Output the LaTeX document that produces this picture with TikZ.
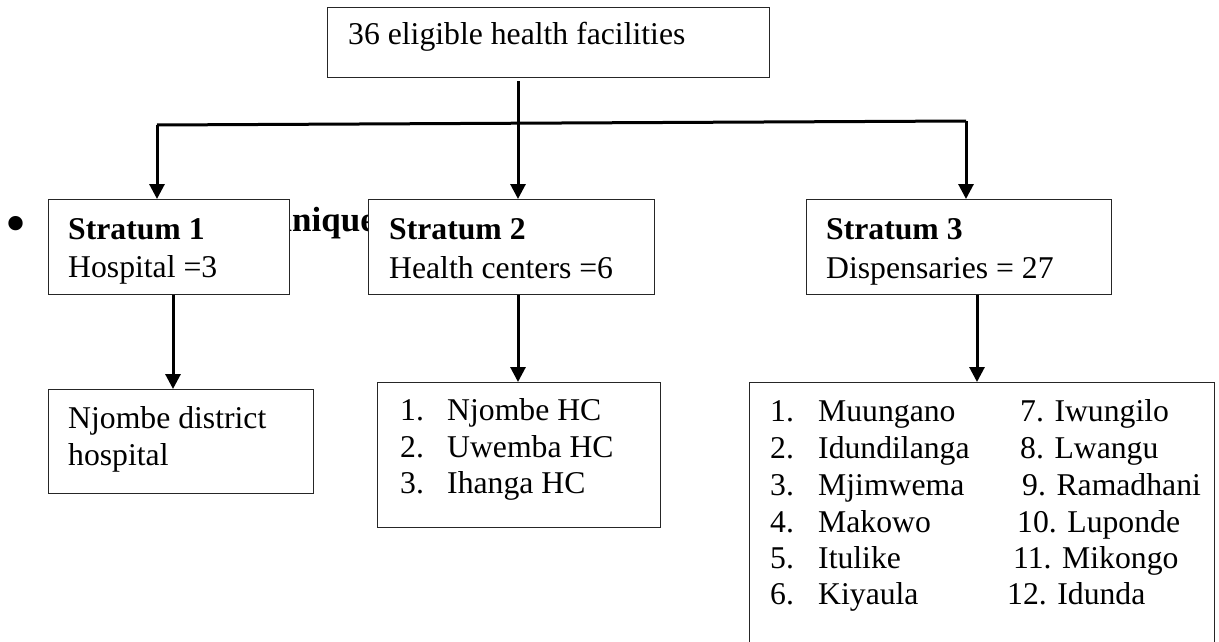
\documentclass[tikz,border=0pt]{standalone}
\usepackage{fontspec}
\setmainfont{Liberation Serif}
\usetikzlibrary{arrows.meta}
\tikzset{
  box/.style={draw=black!85, line width=1.2pt, fill=white, inner sep=0pt, anchor=north west},
  txt/.style={anchor=base west, inner sep=0pt, font=\fontsize{31.7}{36.4}\selectfont},
  btxt/.style={anchor=base west, inner sep=0pt, font=\fontsize{31.7}{36.4}\selectfont\bfseries},
  conn/.style={line width=3pt},
  arr/.style={conn, -{Triangle[width=15pt,length=15pt]}},
}
\begin{document}
\begin{tikzpicture}[x=1pt,y=-1pt]
\useasboundingbox (0,0) rectangle (1219,642);
\fill[white] (0,0) rectangle (1219,642);
\clip (0,0) rectangle (1219,642);

% background bullet text (partly hidden by boxes)
\node[anchor=base west, inner sep=0pt, font=\fontsize{60}{60}\selectfont] (bul) at (5,243) {•};
\node[anchor=base east, inner sep=0pt, font=\fontsize{35}{40}\selectfont\bfseries] (tech) at (376,231) {technique};

% boxes
\node[box, minimum width=442pt, minimum height=70pt] (top) at (327,7) {};
\node[box, minimum width=241pt, minimum height=95pt] (s1) at (48,199) {};
\node[box, minimum width=286pt, minimum height=95pt] (s2) at (368,199) {};
\node[box, minimum width=305pt, minimum height=95pt] (s3) at (806,199) {};
\node[box, minimum width=265pt, minimum height=104pt] (b1) at (48,389) {};
\node[box, minimum width=283pt, minimum height=145pt] (b2) at (377,382) {};
\node[box, minimum width=465pt, minimum height=300pt] (b3) at (749,382) {};

% texts
\node[txt] (toptext) at (348,45) {36 eligible health facilities};
\node[btxt] (s1a) at (68,239) {Stratum 1};
\node[txt] (s1b) at (68,277) {Hospital =3};
\node[btxt] (s2a) at (389,239) {Stratum 2};
\node[txt] (s2b) at (389,278) {Health centers =6};
\node[btxt] (s3a) at (826,239) {Stratum 3};
\node[txt] (s3b) at (826,278) {Dispensaries = 27};
\node[txt] (b1a) at (68,428) {Njombe district};
\node[txt] (b1b) at (68,465) {hospital};

\foreach \n/\name/\y in {1/Njombe HC/420,2/Uwemba HC/457,3/Ihanga HC/493}{
  \node[txt] (hcn\n) at (400,\y) {\n.};
  \node[txt] (hc\n) at (447,\y) {\name};
}
\foreach \n/\name/\y in {1/Muungano/421,2/Idundilanga/458,3/Mjimwema/495,4/Makowo/532,5/Itulike/568,6/Kiyaula/604}{
  \node[txt] (dn\n) at (770,\y) {\n.};
  \node[txt] (d\n) at (818,\y) {\name};
}
\foreach \n/\name/\x/\y in {7/Iwungilo/1020/421,8/Lwangu/1020/458,9/Ramadhani/1022/495,10/Luponde/1017/532,11/Mikongo/1013/568,12/Idunda/1007/604}{
  \node[txt] (d\n) at (\x,\y) {\n. \name};
}

% connectors
\coordinate (hl) at (157,125);
\coordinate (hr) at (966,121);
\draw[conn] (hl) -- (hr);
\draw[arr] (hl) -- (s1.north -| hl);
\draw[arr] (hr) -- (s3.north -| hr);
\draw[arr] ([yshift=-3pt]top.south -| 518,0) -- (s2.north -| 518,0);
\draw[arr] (s1.south -| 173,0) -- (b1.north -| 173,0);
\draw[arr] (s2.south -| 518,0) -- (b2.north -| 518,0);
\draw[arr] (s3.south -| 977,0) -- (b3.north -| 977,0);
\end{tikzpicture}
\end{document}
